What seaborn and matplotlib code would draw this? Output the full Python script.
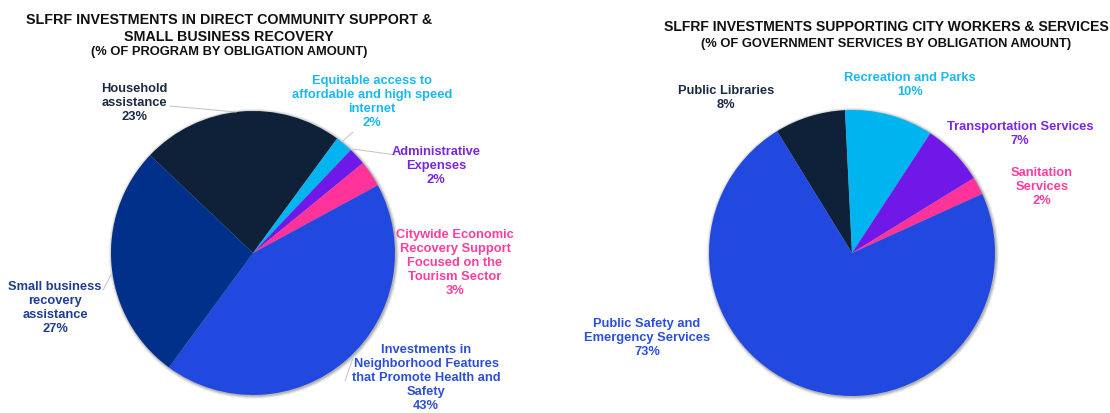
import matplotlib
matplotlib.use("Agg")
import matplotlib.pyplot as plt
import seaborn as sns

# ---- data -------------------------------------------------------------
left_title = "SLFRF INVESTMENTS IN DIRECT COMMUNITY SUPPORT &\nSMALL BUSINESS RECOVERY"
left_subtitle = "(% OF PROGRAM BY OBLIGATION AMOUNT)"
left_labels = [
    "Household\nassistance",
    "Equitable access to\naffordable and high speed\ninternet",
    "Administrative\nExpenses",
    "Citywide Economic\nRecovery Support\nFocused on the\nTourism Sector",
    "Investments in\nNeighborhood Features\nthat Promote Health and\nSafety",
    "Small business\nrecovery\nassistance",
]
left_values = [23, 2, 2, 3, 43, 27]

right_title = "SLFRF INVESTMENTS SUPPORTING CITY WORKERS & SERVICES"
right_subtitle = "(% OF GOVERNMENT SERVICES BY OBLIGATION AMOUNT)"
right_labels = [
    "Public Libraries",
    "Recreation and Parks",
    "Transportation Services",
    "Sanitation\nServices",
    "Public Safety and\nEmergency Services",
]
right_values = [8, 10, 7, 2, 73]

# ---- style ------------------------------------------------------------
sns.set_theme(style="white")
plt.rcParams["font.family"] = ["Liberation Sans", "DejaVu Sans"]

NAVY, DARK, BLUE = "#0e2138", "#00308a", "#2149e0"
CYAN, PURPLE, PINK = "#00b4f0", "#7018e8", "#ff3399"
left_colors = sns.color_palette([NAVY, CYAN, PURPLE, PINK, BLUE, DARK])
right_colors = sns.color_palette([NAVY, CYAN, PURPLE, PINK, BLUE])
left_text_colors = ["#1b2a44", "#1ab8ef", "#7a26e0", "#ff3d9c", "#2b4fdc", "#1f3d8f"]
right_text_colors = ["#1b2a44", "#1ab8ef", "#7a26e0", "#ff3d9c", "#2b4fdc"]

LABEL_SIZE = 9.3
W, H = 1110, 413
fig = plt.figure(figsize=(W / 100, H / 100), dpi=100)
fig.patch.set_facecolor("white")


def pie_axes(cx, cy, r):
    # pad the axes a little so the soft shadow is not clipped
    pad = 1.06
    ax = fig.add_axes([(cx - r * pad) / W, (H - cy - r * pad) / H,
                       2 * r * pad / W, 2 * r * pad / H])
    return ax


def finish_axes(ax):
    ax.set_xlim(-1.06, 1.06)
    ax.set_ylim(-1.06, 1.06)
    ax.set_aspect("equal")
    ax.axis("off")


def fx(x, y):
    return (x / W, 1 - y / H)


def soft_shadow(ax):
    # a few faint grey discs behind the pie give a blurred rim
    for k, a in zip([0.022, 0.016, 0.010, 0.005], [0.10, 0.14, 0.20, 0.30]):
        ax.add_patch(plt.Circle((0.006, -0.006), 1.0 + k, color="#808080",
                                alpha=a, zorder=0, lw=0))


def leader(p0, p1):
    (x0, y0), (x1, y1) = p0, p1
    fig.add_artist(plt.Line2D([x0 / W, x1 / W], [1 - y0 / H, 1 - y1 / H],
                              color="#c8c8c8", lw=0.8))


# ---- left pie ---------------------------------------------------------
axL = pie_axes(253, 253, 142)
soft_shadow(axL)
axL.pie(left_values, colors=left_colors, startangle=136.5, counterclock=False,
        radius=1, wedgeprops=dict(linewidth=0))
finish_axes(axL)

fig.text(*fx(229, 28.5), left_title, ha="center", va="center", fontsize=10.3,
         fontweight="bold", color="#111111", linespacing=1.3)
fig.text(*fx(229, 52), left_subtitle, ha="center", va="center", fontsize=9.3,
         fontweight="bold", color="#111111")

left_pos = [(134, 103), (372, 102), (436, 166), (455, 263), (426, 378), (55, 308)]
for lab, val, col, (x, y) in zip(left_labels, left_values, left_text_colors, left_pos):
    fig.text(*fx(x, y), f"{lab}\n{val}%", ha="center", va="center", fontsize=LABEL_SIZE,
             fontweight="bold", color=col, linespacing=1.2)

leader((170, 106), (236, 112))
leader((353, 132), (343, 141))
leader((396, 155), (353, 149))
leader((103, 290), (111, 275))
leader((345, 381), (353, 358))

# ---- right pie --------------------------------------------------------
axR = pie_axes(852, 253, 143)
soft_shadow(axR)
axR.pie(right_values, colors=right_colors, startangle=121.6, counterclock=False,
        radius=1, wedgeprops=dict(linewidth=0))
finish_axes(axR)

fig.text(*fx(886, 27), right_title, ha="center", va="center", fontsize=10.1,
         fontweight="bold", color="#111111")
fig.text(*fx(886, 44), right_subtitle, ha="center", va="center", fontsize=9.3,
         fontweight="bold", color="#111111")

right_pos = [(726, 98), (910, 85), (1020, 134), (1042, 187), (647, 338)]
for lab, val, col, (x, y) in zip(right_labels, right_values, right_text_colors, right_pos):
    fig.text(*fx(x, y), f"{lab}\n{val}%", ha="center", va="center", fontsize=LABEL_SIZE,
             fontweight="bold", color=col, linespacing=1.2)

fig.savefig("out.png", dpi=100, facecolor="white")
